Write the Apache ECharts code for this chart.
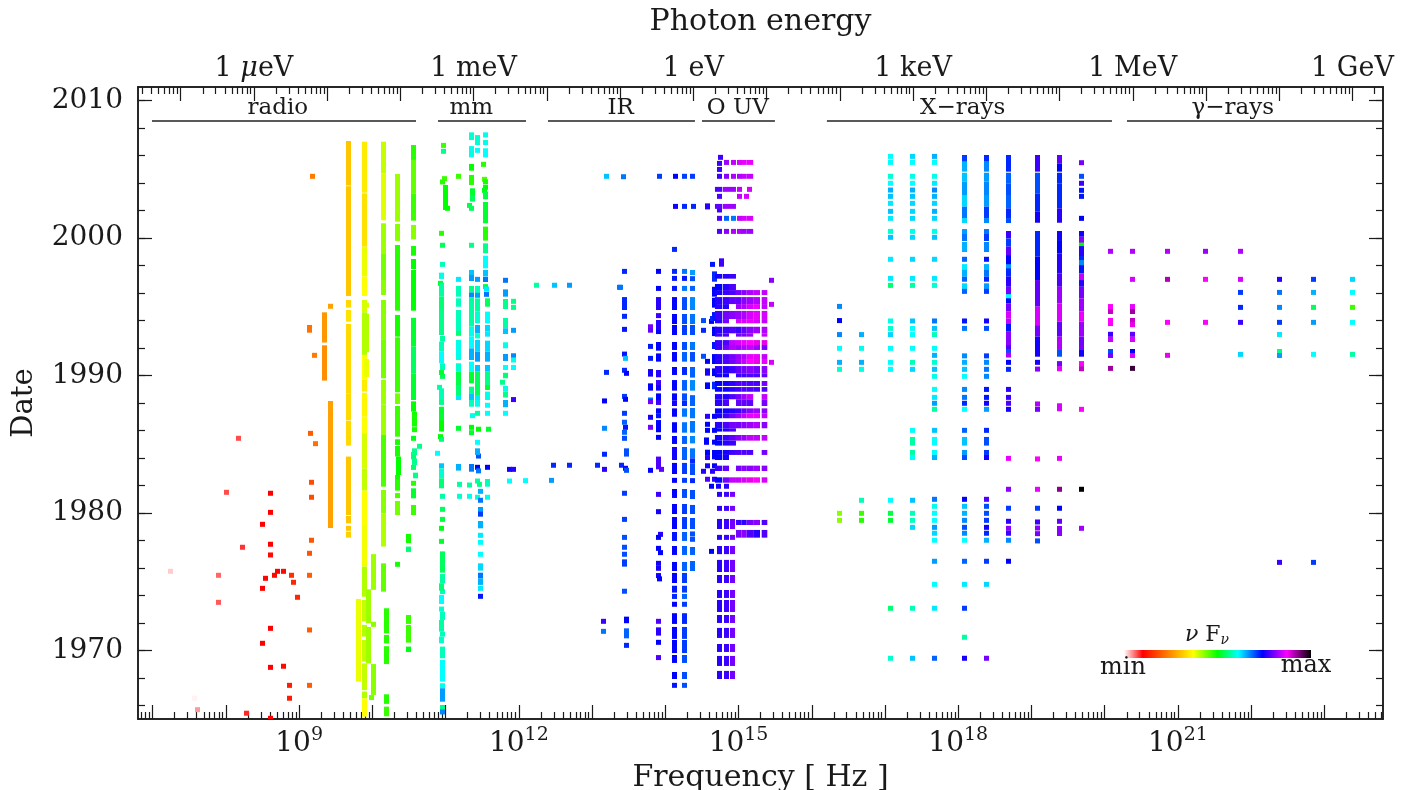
<!DOCTYPE html>
<html><head><meta charset="utf-8">
<style>html,body{margin:0;padding:0;background:#fff}#c{width:1408px;height:790px}</style>
<script src="https://cdn.jsdelivr.net/npm/echarts@6/dist/echarts.min.js"></script>
</head><body><div id="c"></div>
<script>
// All x values are log10(frequency / Hz), y values are dates, flux is the position on the nuFnu colour bar (0..100)
const colourStops = [[0,'#ffffff'],[10,'#ff0000'],[37,'#ffff00'],[50,'#00ff00'],[61,'#00ffff'],[74,'#0000ff'],[87,'#ff00ff'],[100,'#000000']];
const freqLabels = [9,12,15,18,21];
const energyLabels = [[8.3834,'1 {m|μ}eV'],[11.3834,'1 meV'],[14.3834,'1 eV'],[17.3834,'1 keV'],[20.3834,'1 MeV'],[23.3834,'1 GeV']];
const dateLabels = [1970,1980,1990,2000,2010];
const bandNames = ['radio','mm','IR','O UV','X−rays','γ−rays'];
const bandFrom = [6.991,10.896,12.398,14.501,16.207,20.304];
const bandTo = [10.596,12.098,14.405,15.497,20.099,23.8];
const bandLabelNu = [8.71,11.35,13.39,14.99,18.06,21.75];

const radioPoints = [[8.17,1985.43,7],[9.162,1985.79,20],[9.217,1985.04,22],[8.006,1981.5,7],[8.607,1981.43,10],[9.167,1982.23,18],[9.167,1981.14,18],[8.607,1980.04,10],[8.498,1979.17,10],[8.225,1977.5,8],[8.607,1977.72,10],[8.607,1976.94,11],[9.167,1978.01,19],[9.14,1977.06,19],[7.242,1975.75,2],[7.897,1975.46,6],[8.703,1975.75,10],[8.662,1975.46,10.5],[8.785,1975.75,11],[8.894,1975.46,15],[9.14,1975.46,20],[8.539,1975.24,10.5],[8.921,1974.95,14],[8.498,1974.51,10],[8.976,1973.86,14],[7.897,1973.49,6.5],[8.607,1971.6,10],[9.14,1971.48,20],[8.498,1970.51,10],[8.607,1968.76,10],[8.785,1968.84,11],[8.867,1967.45,13],[9.14,1967.45,20],[8.867,1966.51,13],[7.569,1966.51,0.5],[7.61,1965.68,4],[8.279,1965.42,8.5],[8.603,1965.05,10],[9.426,1995.04,27],[9.18,2004.5,23],[9.207,1991.47,23],[9.99,1966.56,44],[10.013,1971.89,43],[10.34,1976.26,49],[10.64,1984.85,56],[10.36,1983.4,50]];
const radioRuns = [
 [9.139,[[1993.12,1993.68,22]]],
 [9.353,[[1989.63,1992.2,25],[1992.4,1994.6,26]]],
 [9.426,[[1978.9,1988.15,27]]],
 [9.671,[[2003.83,2007.07,31],[1995.79,2003.78,31],[1994.94,1995.5,33],[1993.92,1994.77,34],[1988.7,1993.75,33],[1986.76,1988.7,33],[1984.9,1986.72,33],[1979.85,1984.1,31],[1979.24,1979.78,31],[1978.71,1979.05,31],[1978.2,1978.64,32]]],
 [9.808,[[1967.72,1973.74,38]]],
 [9.89,[[2003.31,2007.02,35],[1999.38,2003.26,34],[1997.2,1999.38,38],[1995.79,1997.2,37],[1994.6,1995.5,39],[1991.5,1994.6,41],[1989.68,1991.5,37],[1988.83,1989.68,35],[1987,1988.75,36],[1985.8,1987,37],[1983.25,1985.8,39],[1981.62,1983.25,40],[1979.12,1981.62,37],[1976.09,1979.12,37.5],[1973.9,1976.09,41],[1972.1,1973.66,40],[1971,1971.85,41],[1969.18,1970.75,40],[1967.1,1969.05,40],[1966.5,1967,41],[1965.17,1966.5,37]]],
 [9.926,[[1994.94,1995.3,39],[1991.7,1994.5,41],[1989.9,1991.2,38]]],
 [9.945,[[1971.97,1974.44,42],[1969.05,1971.7,42]]],
 [10.013,[[1974.4,1977,42],[1966.75,1969,43]]],
 [10.149,[[2004.7,2007.02,40],[2001.3,2004.7,38.5],[1998.9,2001.08,42],[1996.95,1998.9,44],[1995.86,1996.95,43],[1992.59,1995.5,43],[1989.8,1992.59,44],[1987.9,1989.68,42],[1985.67,1987.9,42],[1981.91,1985.67,46],[1979.97,1981.67,43],[1977.55,1979.97,41],[1974.27,1976.33,45]]],
 [10.19,[[1971.24,1973.06,48],[1970.5,1971.12,48],[1969,1970.3,48],[1966.1,1966.8,48],[1965.2,1965.9,47]]],
 [10.34,[[2001.2,2004.67,42],[1999.8,2001.03,43],[1994.72,1999.5,48],[1992.83,1994.41,49],[1988.78,1992.78,47],[1987.93,1988.7,44],[1985.55,1987.78,47],[1984.95,1985.36,49],[1984.1,1984.87,49],[1982.4,1982.76,49],[1981.62,1982.4,48],[1981.14,1981.38,46],[1979.85,1980.87,44]]],
 [10.36,[[1982.76,1984.1,50]]],
 [10.559,[[2005.69,2006.78,48],[2003.26,2005.69,45],[2001.27,2003.26,47],[1999.91,2000.96,43],[1998.72,1999.43,49],[1997.75,1998.48,50],[1994.72,1997.68,50],[1992.1,1994.2,52],[1990.16,1992.1,54],[1988.22,1990.16,52],[1987.78,1988.1,50],[1987.37,1987.78,50],[1985.26,1985.6,51],[1984.22,1984.29,56],[1983.9,1984.29,55],[1983.13,1983.49,55],[1982.03,1982.28,48],[1981.06,1981.79,52],[1979.85,1980.58,47]]],
 [10.573,[[1986.28,1987.37,49],[1985.89,1986.23,49],[1983.49,1983.97,56]]],
 [10.582,[[1984.2,1984.7,56]]],
 [10.587,[[1982.52,1982.93,56]]],
 [10.49,[[1977.8,1978.47,49],[1977.16,1977.55,55],[1971.92,1972.57,47],[1970.56,1971.84,47],[1969.88,1970.27,51]]]
];
const mmPoints = [[10.969,2006.75,47],[10.969,2006.32,56],[10.982,2004.33,47],[10.955,2004.09,48],[11.023,2002.17,50],[10.941,2000.35,48],[10.955,1999.48,54],[10.955,1998.09,58],[10.928,1996.71,52],[10.955,1989.94,54],[10.914,1989.14,57],[10.928,1985.55,50],[10.946,1985.36,55],[10.887,1984.34,61],[10.955,1981.21,57],[10.955,1980.26,54],[10.955,1979.53,53],[10.94,1978.88,51],[10.94,1977.93,52],[10.955,1974.27,58],
 [11.173,2004.5,47],[11.173,1997,62],[11.173,1986.16,52],[11.187,1982.08,57],[11.187,1981.21,59],
 [11.351,1999.48,56],[11.33,2002.38,53],[11.355,2002.17,54],[11.365,1987.08,60],[11.351,1986.23,50],[11.36,1985.84,52],[11.324,1982.03,57],[11.324,1981.21,60],
 [11.433,2006.39,61],[11.433,1997,66],[11.433,1987.25,57],[11.447,1986.09,50],[11.433,1985.14,61],[11.447,1984.14,70],[11.433,1983.32,74],[11.447,1983.06,68],[11.433,1982.32,57],[11.46,1982.08,56],[11.474,1981.57,65],[11.433,1981.14,59],[11.474,1980.92,68],[11.474,1978.37,62],[11.474,1977.86,61],[11.474,1976.99,61],[11.474,1973.93,73],
 [11.515,2005.37,48],[11.529,2004.28,46],[11.542,2004.1,49],[11.542,2003.7,50],[11.53,2003.48,51],[11.542,1996.47,52],[11.56,1996.3,62],[11.56,1995.91,68],[11.569,1987.25,61],[11.583,1986.09,52],[11.569,1983.32,74],[11.569,1981.14,60],
 [11.815,1996.93,68],[11.774,1989.51,56],[11.815,1987.25,61],[11.924,1995.4,56],[11.924,1994.96,56],[11.924,1993.29,66],[11.924,1988.25,77],[11.87,1983.17,75],[11.924,1983.17,76],[11.879,1982.32,61],[12.093,1982.35,61],[12.443,1982.37,66],[12.47,1983.47,72],[12.689,1983.47,72],[13.07,1983.47,72],[13.167,1983.17,76],[13.167,1984.27,72],[13.167,1986.16,67],[13.167,1988.15,74],[13.153,1972.11,77],[13.153,1971.38,68],[12.238,1996.57,57],[12.484,1996.57,64],[12.689,1996.57,66],[13.38,1996.42,68],[13.194,2004.5,64],[13.194,1990.23,72]];
const mmRuns = [
 [10.941,[[1996.57,1996.57,57],[1995.74,1996.57,57],[1994.77,1995.74,55],[1992.95,1994.77,56],[1991.74,1992.47,58],[1990.89,1991.74,61],[1990.04,1990.4,52],[1988.22,1989.07,58]]],
 [10.946,[[1997.03,1997.49,60],[1987.86,1988.22,56],[1986.76,1987.73,52],[1985.92,1986.76,50],[1983.25,1983.61,64],[1982.52,1983.25,59],[1981.79,1982.52,55],[1974.88,1974.34,55],[1973.37,1974.03,61],[1972.82,1973.18,59],[1971.36,1972.21,57],[1970.51,1971,59]]],
 [10.955,[[1992.47,1992.88,57],[1990.4,1990.89,58],[1975.65,1977.2,54],[1974.88,1975.55,57],[1972.21,1972.82,58],[1971,1971.36,58],[1969.42,1970.27,58],[1967.72,1969.3,61],[1967.24,1967.6,60],[1966.26,1967.24,66],[1965.66,1966.02,56],[1965.37,1965.66,67]]],
 [11.005,[[2002.05,2003.87,50]]],
 [11.173,[[1995.74,1996.52,58],[1995.01,1995.62,58],[1993.19,1994.77,58],[1992.95,1993.19,55],[1991.13,1992.59,60],[1990.28,1990.89,59],[1989.31,1990.28,53],[1988.58,1989.31,55],[1988.22,1988.58,62],[1983.08,1983.56,65]]],
 [11.351,[[2007.14,2007.7,59],[2005.88,2006.7,60],[2004.91,2005.4,50],[2003.87,2004.6,48],[1997.32,1997.68,64],[1996.88,1997.32,66],[1996.03,1996.52,56],[1995.69,1996.03,67],[1993.56,1995.69,57],[1992.83,1993.56,60],[1991.98,1992.83,61],[1991.13,1991.98,65],[1990.28,1991.01,61],[1989.43,1990.28,52],[1988.71,1989.19,56],[1988.22,1988.71,64],[1987.73,1988.22,58],[1983,1983.56,68]]],
 [11.365,[[2003.14,2003.63,52],[2002.66,2003.14,54]]],
 [11.433,[[2006.78,2007.5,59],[1995.98,1996.52,58],[1995.7,1995.98,66],[1994.65,1995.62,57],[1993.8,1994.65,59],[1993.07,1993.68,65],[1992.7,1993.07,59],[1991.74,1992.59,63],[1991.01,1991.74,66],[1990.28,1990.77,64],[1988.58,1990.28,54],[1988.22,1988.58,62],[1987.73,1988.22,60],[1984.22,1984.7,65]]],
 [11.474,[[1980.09,1980.41,66],[1979.73,1980.09,71],[1978.88,1979.41,65],[1975.8,1976.33,63],[1975.24,1975.65,68],[1974.76,1975.24,65],[1974.34,1974.68,62]]],
 [11.542,[[2007.33,2007.7,60],[2006.78,2007.14,60],[2005.88,2006.54,61],[2002.83,2003.38,53],[2001.08,2002.63,52],[1999.82,2000.84,48],[1998.9,1999.62,56],[1997.8,1998.72,61],[1997.2,1997.68,64],[1996.83,1997.15,68]]],
 [11.569,[[1995.01,1995.62,54],[1993.8,1994.65,61],[1993.19,1993.68,63],[1992.83,1993.19,62],[1991.74,1992.54,63],[1991.01,1991.74,65],[1990.28,1990.77,64],[1989.31,1990.28,56],[1988.95,1989.31,52],[1988.22,1988.83,60],[1987.69,1987.98,61],[1981.91,1982.47,58]]],
 [11.815,[[1995.74,1996.27,66],[1994.84,1995.57,56],[1993.44,1994.19,57],[1993.02,1993.44,64],[1991.98,1992.42,60],[1991.06,1991.57,66],[1990.4,1990.77,61],[1989.8,1990.2,55],[1988.83,1989.24,60],[1988.4,1988.83,56],[1987.69,1988.22,65]]],
 [11.924,[[1991.25,1991.62,67],[1991.01,1991.25,60],[1990.4,1990.77,61]]]
];
const irPoints = [[13.427,2004.47,68],[13.919,2004.5,71],[14.137,2004.5,74],[14.26,2004.5,71],[14.37,2004.5,71],[14.133,2002.31,75],[14.26,2002.31,72],[14.383,2002.31,72],[14.123,1999.18,72],[13.44,1997.58,72],[13.905,1997.58,74],[14.123,1997.58,72],[14.26,1997.58,68],[14.37,1997.5,66],[14.123,1997.07,73],[14.26,1997.07,73],[14.37,1997.05,70],[13.386,1996.42,68],[13.905,1996.34,74],[14.123,1996.34,73],[14.26,1996.34,68],[14.37,1996.34,69],
 [13.44,1994.31,72],[13.44,1993.36,73],[13.44,1991.56,73],[13.454,1991.25,64],[13.44,1990.38,72],[13.468,1990.16,74],[13.44,1988.48,71],[13.454,1988.27,74],[13.44,1987.25,71],[13.44,1986.6,69],[13.454,1986.23,73],[13.44,1985.87,69],[13.44,1985.43,70],[13.4,1983.47,72],[13.454,1983.25,75],[13.468,1983.1,70],[13.44,1981.43,71],[13.44,1979.53,71],[13.44,1978.22,70],[13.44,1977.5,70],[13.44,1976.99,70],[13.44,1974.3,70],[13.468,1970.36,72],
 [13.796,1993.55,80],[13.796,1993.3,79],[13.796,1992.12,73],[13.796,1991.25,73],[13.796,1988.22,68],[13.796,1988.1,80],[13.796,1986.96,75],[13.796,1986.23,80],[13.796,1983.1,74],
 [13.905,1994.36,77],[13.905,1993.2,74],[13.905,1985.5,74],[13.95,1983.17,79],[13.905,1981.35,77],[13.905,1980.09,75],[13.937,1978.44,76],[13.905,1978.22,74],[13.905,1977.42,74],[13.937,1977.11,74],[13.905,1976.33,75],[13.905,1975.97,75],[13.905,1975.44,75],[13.923,1975.2,74],[13.905,1972.11,78],[13.905,1970.58,74],[13.905,1969.47,78],
 [14.52,1994,70],[14.52,1993.29,72],[14.52,1991.4,70],[14.574,1991.03,74],[14.628,1993.94,74],[14.642,1994.15,72],[14.574,1987.03,76],[14.574,1986.45,74],[14.574,1986.01,74],[14.565,1985.31,74],[14.556,1985.14,74],[14.52,1983.03,76],[14.574,1982.45,78],[14.628,1981.94,74],[14.628,1977.2,74],[14.642,1983.03,76],[14.37,1982.35,72],[14.37,1978.47,70],[14.37,1978.08,70]];
const irRunDates = [[1994.77,1995.71],[1993.75,1994.48],[1992.95,1993.68],[1991.86,1992.44],[1991.01,1991.71],[1990.04,1990.62],[1988.9,1989.67],[1988.17,1988.7],[1987.78,1988.17],[1987,1987.61],[1985.84,1986.6],[1985.02,1985.6],[1983.85,1984.8],[1982.83,1983.64],[1982.37,1982.37],[1981.09,1981.74],[1979.92,1980.65],[1978.83,1979.7],[1977.96,1978.61],[1976.94,1977.59],[1975.77,1976.43],[1974.9,1975.63],[1974.2,1974.7],[1973.74,1974.1],[1973.35,1973.35],[1971.92,1972.7],[1970.83,1971.7],[1969.8,1970.75],[1969.08,1969.66],[1967.91,1968.42],[1967.45,1967.45]];
const ir14p12 = [74,74,74,74,74,74,74,74,75,74,74,74,75,74,74,74,74,74,73,74,74,74,73,72,74,74,74,74,74,74,73];
const ir14p26 = [70,70,71,70,69,72,69,70,72,68,68,69,69,71,71,70,71,71,69,69,69,71,71,69,71,72,71,71,70,70,70];
const irRuns = [
 [13.44,[[1994.77,1995.71,72],[1976.09,1976.62,71]]],
 [13.468,[[1984.1,1984.7,70],[1971.97,1972.45,74],[1970.87,1971.6,69]]],
 [13.796,[[1989.92,1990.47,75],[1988.9,1989.43,74]]],
 [13.905,[[1994.77,1995.71,76],[1993.31,1994.04,76],[1991.81,1992.44,74],[1991.01,1991.61,74],[1989.87,1990.4,76],[1989.31,1989.67,77],[1988.9,1989.31,75],[1988.22,1988.7,74],[1987.86,1988.22,77],[1987.25,1987.61,74],[1986.9,1987.25,73],[1985.87,1986.76,74],[1983.17,1984.1,78],[1971.07,1971.67,76]]],
 [14.37,[[1994.77,1995.71,67],[1993.75,1994.48,68],[1992.95,1993.68,70],[1991.86,1992.44,68],[1991.01,1991.71,70],[1989.85,1990.62,69],[1988.9,1989.67,67],[1987.78,1988.57,69],[1987.64,1986.89,68],[1985.84,1986.69,68],[1985.06,1985.6,67],[1983.97,1984.7,68],[1983.61,1983.97,72],[1982.76,1983.61,70],[1981.01,1981.67,70],[1979.92,1980.58,70],[1978.83,1979.63,70],[1976.94,1977.52,69],[1975.77,1976.5,69]]],
 [14.574,[[2002.09,2002.53,76],[1989.99,1990.52,75],[1989.02,1989.5,74],[1984.21,1984.6,74],[1983.85,1984.21,76],[1983.25,1983.61,75]]],
 [14.67,[[1997.58,1996.83,72],[1995.74,1996.46,74],[1994.94,1995.66,74],[1993.99,1994.62,73],[1992.87,1993.55,74],[1991.93,1992.44,73],[1990.84,1991.56,74],[1989.96,1990.52,74],[1989,1989.55,72],[1986.9,1987.16,74],[1985.9,1986.12,74],[1985,1985.3,74],[1983.9,1984.58,74],[1983.25,1983.61,74],[1982.38,1982.52,76]]],
 [14.765,[[1997.92,1998.53,77]]]
];
// UV bands: [from, to, flux in each frequency bin]
const uvBinEdges = [[14.678,14.778],[14.787,14.87],[14.87,14.965],[14.965,15.04],[15.04,15.111],[15.111,15.2],[15.2,15.293],[15.316,15.393]];
const uvBands = [
 [1997.05,1997.39,[75,76,77,null,null,null,null,null]],
 [1996.22,1996.66,[74,76,78,null,null,null,null,null]],
 [1995.86,1996.22,[75,77,78,80,81,83,84,84]],
 [1995.2,1995.71,[76,77,79,79,81,82,83,84]],
 [1994.84,1995.2,[76,76,null,82,83,85,86,84]],
 [1994.11,1994.7,[77,80,81,82,83,85,86,85]],
 [1993.8,1994.11,[76,80,null,85,85,86,85,84]],
 [1993.07,1993.55,[76,77,78,77,79,81,82,83]],
 [1992.83,1993.07,[77,78,null,80,80,82,null,84]],
 [1992.22,1992.58,[77,78,84,85,86,87,88,88]],
 [1991.86,1992.22,[77,80,83,82,83,84,82,80]],
 [1991.2,1991.56,[76,78,80,82,83,86,86,84]],
 [1990.84,1991.2,[76,78,80,82,84,87,88,86]],
 [1990.16,1990.69,[76,76,77,79,80,81,80,81]],
 [1989.87,1990.16,[75,75,null,77,77,78,78,79]],
 [1989.24,1989.6,[74,75,76,78,78,78,78,80]],
 [1988.82,1989.16,[74,75,76,77,78,78,78,78]],
 [1988.27,1988.65,[76,76,78,80,82,84,null,84]],
 [1987.78,1988.27,[76,78,null,79,79,79,null,80]],
 [1987.25,1987.61,[74,75,76,77,79,81,82,81]],
 [1986.89,1987.25,[75,77,80,82,84,86,86,84]],
 [1986.16,1986.62,[76,78,80,80,81,82,83,81]],
 [1985.92,1986.16,[74,76,78,null,null,null,null,null]],
 [1985.26,1985.67,[75,77,79,81,82,84,84,84]],
 [1984.9,1985.26,[74,76,77,null,null,null,null,null]],
 [1984.22,1984.58,[74,75,77,78,78,78,null,80]],
 [1983.85,1984.22,[74,75,null,null,null,null,null,null]],
 [1983.05,1983.44,[77,79,null,80,81,81,82,81]],
 [1982.2,1982.59,[74,80,84,84,85,88,87,85]],
 [1979.12,1979.49,[null,null,null,77,76,80,81,78]],
 [1978.2,1978.76,[null,null,null,80,81,78,76,78]],
 [2005.33,2005.69,[null,null,null,null,86,86,null,null]],
 [2004.32,2004.68,[null,null,null,null,84,84,null,null]],
 [2003.37,2003.73,[78,82,82,null,null,null,null,null]],
 [2002.13,2002.49,[79,82,82,null,null,null,null,null]],
 [2001.26,2001.62,[null,null,null,null,85,85,null,null]],
 [2000.31,2000.67,[null,null,null,null,82,82,null,null]]
];
const uvPoints = [[14.752,2005.88,77],[14.738,2005.44,77],[14.738,2005,77],[14.738,2004.5,77],[14.833,2005.51,82],[14.929,2005.51,84],[15.011,2005.51,85],[14.833,2004.5,81],[14.929,2004.5,83],[15.011,2004.5,83],[15.011,2003.55,84],[15.148,2003.55,85],[14.738,2003.04,78],[15.011,2003.04,84],[15.106,2003.04,85],[14.738,2002.05,77],[14.738,2001.44,78],[14.833,2001.44,69],[14.929,2001.44,68],[15.011,2001.44,84],[14.738,2000.49,78],[14.833,2000.49,81],[14.929,2000.49,83],[15.011,2000.49,83],[14.642,1998.09,73],[15.448,1996.93,81],[15.448,1995.18,84],[15.448,1990.96,85],[14.724,1981.94,75],[14.833,1981.94,76]];
const uvLowDates = [[1981.35,1981.35],[1980.33,1980.33],[1978.83,1979.56],[1978.22,1978.22],[1977,1977.59],[1975.7,1976.58],[1974.9,1975.48],[1973.81,1974.39],[1972.79,1973.66],[1971.99,1972.57],[1970.9,1971.63],[1969.88,1970.46],[1968.86,1969.59],[1967.91,1968.5]];
const uvLowNu = [14.738,14.833,14.915];
const uvLowFlux = [76,77,80];
// Soft X-ray observation dates shared by three bands
const softXDates = [2005.95,2005.51,2004.5,2003.99,2003.5,2003.04,2002.53,2001.95,2001.44,2000.49,2000.06,1998.46,1997.07,1996.56,1993.97,1993.43,1992.98,1991.98,1990.96,1990.45];
const softX1 = [61,61,59,61,65,64,62,64,62,59,64,62,62,55,60,59,63,61,61,61];
const softX2 = [63,61,60,61,65,64,63,63,63,60,63,63,62,57,64,61,61,61,58,63];
const softX3 = [65,61,60,62,67,65,63,65,63,60,64,63,62,59,68,64,58,61,59,64];
const xrayPoints = [[16.376,1995.03,67],[16.376,1994,74],[16.376,1992.98,67],[16.376,1991.98,61],[16.376,1990.96,65],[16.376,1990.45,59],[16.376,1979.97,43],[16.376,1979.46,43],
 [16.676,1992.98,65],[16.676,1991.98,60],[16.676,1990.96,65],[16.676,1990.45,60],[16.676,1980.92,58],[16.676,1979.97,47],[16.676,1979.46,48],
 [17.072,1980.92,61],[17.072,1979.97,53],[17.072,1979.46,52],[17.072,1973.06,55],[17.072,1969.42,59],
 [17.373,1986.01,61],[17.373,1980.92,64],[17.373,1979.97,58],[17.373,1979.46,58],[17.373,1978.95,63],[17.373,1973.06,58],[17.373,1969.42,64],
 [17.673,1991.47,65],[17.673,1989.94,60],[17.673,1988.99,61],[17.673,1988.41,62],[17.673,1987.98,66],[17.673,1987.54,57],[17.673,1986.01,64],[17.673,1980.99,68],[17.673,1980.48,60],[17.673,1979.97,61],[17.673,1979.46,61],[17.673,1978.95,66],[17.673,1978.52,63],[17.673,1978.01,61],[17.673,1976.48,66],[17.673,1974.8,61],[17.673,1973.06,62],[17.673,1969.42,69],
 [18.083,1998.46,69],[18.083,1993.97,73],[18.083,1993.43,68],[18.083,1990.96,65],[18.083,1990.45,64],[18.083,1989.94,61],[18.083,1988.99,67],[18.083,1988.41,68],[18.083,1987.98,72],[18.083,1987.54,61],[18.083,1986.01,69],[18.083,1980.99,74],[18.083,1980.48,64],[18.083,1979.97,65],[18.083,1979.46,67],[18.083,1978.95,70],[18.083,1978.52,67],[18.083,1978.01,61],[18.083,1976.48,69],[18.083,1974.8,62],[18.083,1973.06,71],[18.083,1970.95,57],[18.083,1969.42,75],
 [18.383,1998.46,73],[18.383,1993.97,75],[18.383,1993.43,70],[18.383,1990.96,67],[18.383,1990.45,68],[18.383,1989.94,67],[18.383,1988.99,73],[18.383,1988.41,73],[18.383,1987.98,75],[18.383,1987.54,66],[18.383,1986.01,72],[18.383,1980.99,78],[18.383,1980.48,70],[18.383,1979.97,70],[18.383,1979.46,71],[18.383,1978.95,75],[18.383,1978.52,72],[18.383,1978.01,65],[18.383,1976.48,71],[18.383,1974.8,63],[18.383,1969.42,80],
 [18.684,1990.96,74],[18.684,1990.45,72],[18.684,1988.99,76],[18.684,1988.41,77],[18.684,1987.98,78],[18.684,1987.54,75],[18.684,1983.97,86],[18.684,1981.72,81],[18.684,1980.34,71],[18.684,1979.39,76],[18.684,1978.88,81],[18.684,1978.52,77],[18.684,1978.01,67],[18.684,1976.48,74],
 [19.08,1990.96,75],[19.08,1990.47,81],[19.08,1987.93,83],[19.08,1987.54,80],[19.08,1983.93,87],[19.08,1981.72,86],[19.08,1980.34,71],[19.08,1979.34,77],[19.08,1978.9,81],[19.08,1978.49,80],[19.08,1977.96,70],
 [19.38,1983.97,86],[19.38,1981.72,93],[19.38,1980.34,74],[19.38,1979.39,79],
 [19.68,2005.49,80],[19.68,2004.5,70],[19.68,2003.99,77],[19.68,2003.48,73],[19.68,2003.04,73],[19.68,2001.44,74],[19.68,1987.54,87],[19.68,1981.72,100],[19.68,1978.88,82]];
const xrayRuns = [
 [17.373,[[1984.9,1985.53,57],[1984.22,1984.58,57],[1983.85,1984.22,61]]],
 [17.673,[[1984.9,1985.53,61],[1984.22,1984.58,61],[1983.85,1984.22,65]]],
 [18.083,[[2005.56,2006.05,71],[2004.84,2005.56,65],[2004.11,2004.76,64],[2003.14,2004.11,66],[2002.29,2003.14,63],[2001.44,2002.29,68],[2001.12,2001.44,63],[2000.3,2000.66,66],[1999.79,2000.3,68],[1998.99,1999.72,65],[1997.73,1998.11,62],[1997.19,1997.73,65],[1996.83,1997.19,69],[1996.22,1996.71,63],[1996.03,1996.22,69],[1991.25,1991.61,67],[1984.9,1985.53,64],[1984.22,1984.58,66],[1983.85,1984.22,70]]],
 [18.383,[[2005.56,2006.05,72],[2004.84,2005.56,67],[2004.11,2004.76,66],[2003.14,2004.11,67],[2002.29,2003.14,66],[2001.44,2002.29,71],[2001.12,2001.44,67],[2000.3,2000.66,68],[1999.79,2000.3,71],[1998.99,1999.72,67],[1997.73,1998.11,65],[1997.19,1997.73,68],[1996.83,1997.19,72],[1996.22,1996.71,66],[1996.03,1996.22,71],[1991.25,1991.61,71],[1984.9,1985.53,70],[1984.22,1984.58,71],[1983.85,1984.22,75]]],
 [18.684,[[2004.84,2006.05,72],[2003.99,2004.76,69],[2003.14,2003.99,70],[2002.17,2003.14,69],[2001.44,2002.17,72],[2001.12,2001.44,70],[1999.98,2000.52,77],[1999.38,1999.98,71],[1998.77,1999.38,79],[1998.04,1998.77,74],[1997.8,1998.04,66],[1997.19,1997.8,72],[1996.46,1997.19,76],[1995.86,1996.46,80],[1995.62,1995.86,61],[1995.25,1995.62,74],[1994.65,1995.25,80],[1994.16,1994.65,85],[1993.8,1994.16,84],[1993.19,1993.8,73],[1992.22,1993.19,81],[1991.86,1992.22,78],[1991.61,1991.86,70],[1991.37,1991.61,83]]],
 [19.08,[[2004.84,2006.05,77],[2003.26,2004.76,70],[2001.92,2003.26,72],[2001.12,2001.92,75],[1998.65,2000.52,72],[1996.95,1998.65,74],[1995.01,1996.95,79],[1993.67,1995.01,85],[1992.83,1993.67,80],[1991.37,1992.83,75]]],
 [19.38,[[2005.44,2006.05,79],[2004.84,2005.44,74],[2003.99,2004.76,72],[2002.17,2003.99,72],[2001.12,2002.17,76],[1999.86,2000.52,75],[1998.89,1999.86,74],[1997.44,1998.89,76],[1996.46,1997.44,78],[1995.25,1996.46,82],[1993.92,1995.25,85],[1992.83,1993.92,79],[1991.86,1992.83,83],[1991.37,1991.86,70],[1990.64,1991.05,80],[1990.35,1990.64,86],[1987.4,1987.98,85],[1978.32,1979.05,81]]],
 [19.68,[[2000.1,2000.52,75],[1999.57,2000.1,81],[1999.42,1999.57,50],[1998.65,1999.42,76],[1998.4,1998.65,72],[1998.04,1998.4,67],[1997.44,1998.04,73],[1996.95,1997.44,84],[1996.46,1996.95,76],[1995.62,1996.46,80],[1994.65,1995.62,82],[1993.92,1994.65,86],[1992.83,1993.92,82],[1991.86,1992.83,80],[1991.37,1991.86,75],[1990.64,1991.05,87],[1990.35,1990.64,90]]]
];
const gammaPoints = [[20.077,1999.04,83],[20.377,1999.04,83],[20.855,1999.04,83],[21.374,1999.04,82],[21.852,1999.04,83],
 [20.377,1997,85],[20.855,1997,91],[21.374,1997,87],[21.852,1997,85],[22.384,1997,76],[22.848,1997,71],[23.381,1997,63],
 [21.852,1996.05,71],[22.384,1996.05,68],[22.848,1996.05,65],[23.381,1996.05,61],
 [21.852,1994.96,72],[22.384,1994.96,67],[22.848,1994.96,54],[23.381,1994.96,47],
 [20.855,1993.87,87],[21.374,1993.87,87],[21.852,1993.87,77],[22.384,1993.87,71],[22.848,1993.87,66],[23.381,1993.87,61],
 [22.384,1992.99,62],[20.855,1991.47,88],[21.852,1991.54,63],[22.848,1991.54,61],[23.381,1991.54,57],
 [20.077,1990.52,92],[20.377,1990.52,97],[22.384,1976.4,77],[22.848,1976.4,71]];
const gammaRuns = [
 [20.077,[[1994.84,1995.2,87],[1994.48,1994.84,90],[1993.6,1994.19,87],[1992.83,1993.17,77],[1992.44,1992.83,84],[1991.57,1991.93,70],[1991.35,1991.57,80]]],
 [20.377,[[1994.84,1995.2,86],[1994.48,1994.84,92],[1993.8,1994.19,90],[1993.6,1993.8,88],[1992.83,1993.17,79],[1992.44,1992.83,85],[1991.57,1991.93,74],[1991.35,1991.57,85]]],
 [22.384,[[1991.57,1991.93,56],[1991.35,1991.57,66]]]
];

function pointRows(list){ return list.map(p => [p[0], p[1], p[1], p[2]]); }
function runRows(list){ const o=[]; list.forEach(c => c[1].forEach(r => o.push([c[0], Math.min(r[0],r[1]), Math.max(r[0],r[1]), r[2]]))); return o; }
const columnData = [].concat(
  pointRows(radioPoints), runRows(radioRuns),
  pointRows(mmPoints), runRows(mmRuns),
  pointRows(irPoints), runRows(irRuns),
  irRunDates.map((d,i)=>[14.123,d[0],d[1],ir14p12[i]]),
  irRunDates.map((d,i)=>[14.26,d[0],d[1],ir14p26[i]]),
  pointRows(uvPoints),
  ...uvLowNu.map((n,k)=>uvLowDates.map(d=>[n,d[0],d[1],uvLowFlux[k]])),
  softXDates.map((d,i)=>[17.072,d,d,softX1[i]]),
  softXDates.map((d,i)=>[17.373,d,d,softX2[i]]),
  softXDates.map((d,i)=>[17.673,d,d,softX3[i]]),
  pointRows(xrayPoints), runRows(xrayRuns),
  pointRows(gammaPoints), runRows(gammaRuns)
);
const bandData = [];
uvBands.forEach(b => b[2].forEach((f,i) => { if (f!==null) bandData.push([uvBinEdges[i][0],uvBinEdges[i][1],b[0],b[1],f]); }));

function hex(c){ return [1,3,5].map(i=>parseInt(c.substr(i,2),16)); }
function fluxColour(f){
  for(let i=1;i<colourStops.length;i++){
    if(f<=colourStops[i][0]){
      const a=colourStops[i-1],b=colourStops[i],t=(f-a[0])/(b[0]-a[0]),ca=hex(a[1]),cb=hex(b[1]);
      return 'rgb('+ca.map((v,k)=>Math.round(v+(cb[k]-v)*t)).join(',')+')';
    }
  }
  return '#000';
}
const serif = '"DejaVu Serif"';
const ink = '#1a1a1a';
const xMin=6.8,xMax=23.8,yMin=1965,yMax=2011;
function range(a,b){const o=[];for(let i=a;i<=b;i++)o.push(i);return o;}
const freqMajor = range(7,23);
const freqMinor = []; for(let d=6;d<=23;d++)for(let k=2;k<=9;k++){const v=d+Math.log10(k); if(v>xMin&&v<xMax)freqMinor.push(v);}
const energyOffset = 0.3834;
const energyMajor = range(7,23).map(d=>d+energyOffset);
const energyMinor = []; for(let d=6;d<=23;d++)for(let k=2;k<=9;k++){const v=d+energyOffset+Math.log10(k); if(v>xMin&&v<xMax)energyMinor.push(v);}
const dateMinor = range(983,1005).map(i=>i*2);

function xAxisOf(pos,vals,len,extra){
  return Object.assign({type:'value',position:pos,min:xMin,max:xMax,splitLine:{show:false},
    axisLine:{show:true,onZero:false,lineStyle:{color:ink,width:1.5}},
    axisTick:{show:true,inside:true,length:len,customValues:vals,lineStyle:{color:ink,width:1.2}},
    axisLabel:{show:false}},extra||{});
}
function yAxisOf(pos,vals,len,extra){
  return Object.assign({type:'value',position:pos,min:yMin,max:yMax,splitLine:{show:false},
    axisLine:{show:true,onZero:false,lineStyle:{color:ink,width:1.5}},
    axisTick:{show:true,inside:true,length:len,customValues:vals,lineStyle:{color:ink,width:1.2}},
    axisLabel:{show:false}},extra||{});
}
const chart = echarts.init(document.getElementById('c'),null,{renderer:'canvas'});
chart.setOption({
  animation:false,backgroundColor:'#fff',
  grid:{left:138,top:87,width:1245,height:632,show:false,outerBoundsMode:'none'},
  xAxis:[
    xAxisOf('bottom',freqMajor,14,{name:'Frequency [ Hz ]',nameLocation:'middle',nameGap:41,
      nameTextStyle:{fontFamily:serif,fontSize:30,color:ink},
      axisLabel:{show:true,customValues:freqLabels,margin:7,color:ink,
        formatter:v=>'{b|10}{s|'+v+'}',
        rich:{b:{fontFamily:serif,fontSize:28,color:ink,verticalAlign:'bottom'},s:{fontFamily:serif,fontSize:19,color:ink,verticalAlign:'bottom',padding:[0,0,13,0]}}}}),
    xAxisOf('bottom',freqMinor,7),
    xAxisOf('top',energyMajor,14,{name:'Photon energy',nameLocation:'middle',nameGap:50,
      nameTextStyle:{fontFamily:serif,fontSize:30,color:ink},
      axisLabel:{show:true,customValues:energyLabels.map(e=>e[0]),margin:5,color:ink,fontFamily:serif,fontSize:27,
        formatter:v=>{const e=energyLabels.find(x=>Math.abs(x[0]-v)<1e-6);return e?e[1]:'';},
        rich:{m:{fontFamily:serif,fontStyle:'italic',fontSize:27,color:ink}}}}),
    xAxisOf('top',energyMinor,7)
  ],
  yAxis:[
    yAxisOf('left',dateLabels,14,{name:'Date',nameLocation:'middle',nameGap:99,
      nameTextStyle:{fontFamily:serif,fontSize:29,color:ink},
      axisLabel:{show:true,customValues:dateLabels,margin:15,color:ink,fontFamily:serif,fontSize:28,formatter:v=>String(v)}}),
    yAxisOf('left',dateMinor,7),
    yAxisOf('right',dateLabels,14),
    yAxisOf('right',dateMinor,7)
  ],
  series:[
    {type:'custom',coordinateSystem:'cartesian2d',xAxisIndex:0,yAxisIndex:0,silent:true,clip:true,data:columnData,
      encode:{x:0,y:1},
      renderItem:(p,api)=>{
        const c=api.coord([api.value(0),api.value(2)]),b=api.coord([api.value(0),api.value(1)]);
        let h=b[1]-c[1],y=c[1];
        if(h<5){y=(c[1]+b[1])/2-2.5;h=5;}
        return {type:'rect',shape:{x:Math.round(c[0]-2.5),y:y,width:5,height:h},style:{fill:fluxColour(api.value(3))}};
      }},
    {type:'custom',coordinateSystem:'cartesian2d',xAxisIndex:0,yAxisIndex:0,silent:true,clip:true,data:bandData,
      encode:{x:0,y:2},
      renderItem:(p,api)=>{
        const a=api.coord([api.value(0),api.value(3)]),b=api.coord([api.value(1),api.value(2)]);
        return {type:'rect',shape:{x:a[0],y:a[1],width:b[0]-a[0],height:b[1]-a[1]},style:{fill:fluxColour(api.value(4))}};
      }},
    {type:'custom',coordinateSystem:'cartesian2d',xAxisIndex:0,yAxisIndex:0,silent:true,clip:false,
      data:bandNames.map((n,i)=>[bandFrom[i],bandTo[i],bandLabelNu[i]]),encode:{x:0},
      renderItem:(p,api)=>{
        const a=api.coord([api.value(0),2008.52]),b=api.coord([api.value(1),2008.52]),t=api.coord([api.value(2),2009.5]);
        return {type:'group',children:[
          {type:'line',shape:{x1:a[0],y1:a[1],x2:b[0],y2:b[1]},style:{stroke:'#222',lineWidth:1.4}},
          {type:'text',style:{text:bandNames[p.dataIndex],x:t[0],y:t[1],fill:ink,fontFamily:'"DejaVu Serif"',fontSize:23,align:'center',verticalAlign:'middle'}}
        ]};
      }}
  ],
  graphic:[
    {type:'rect',silent:true,shape:{x:1124,y:650,width:187,height:8},
     style:{fill:new echarts.graphic.LinearGradient(0,0,1,0,colourStops.map(s=>({offset:s[0]/100,color:s[1]})))}},
    {type:'text',silent:true,style:{x:1207,y:635,text:'{i|ν} F{s|ν}',align:'center',verticalAlign:'middle',fill:ink,fontFamily:serif,fontSize:22,
      rich:{i:{fontStyle:'italic',fontFamily:serif,fontSize:22,fill:ink},s:{fontStyle:'italic',fontFamily:serif,fontSize:14,fill:ink,verticalAlign:'top',padding:[10,0,0,0]}}}},
    {type:'text',silent:true,style:{x:1123,y:668,text:'min',align:'center',verticalAlign:'middle',fill:ink,fontFamily:serif,fontSize:24}},
    {type:'text',silent:true,style:{x:1306,y:666,text:'max',align:'center',verticalAlign:'middle',fill:ink,fontFamily:serif,fontSize:24}}
  ]
});
</script></body></html>
